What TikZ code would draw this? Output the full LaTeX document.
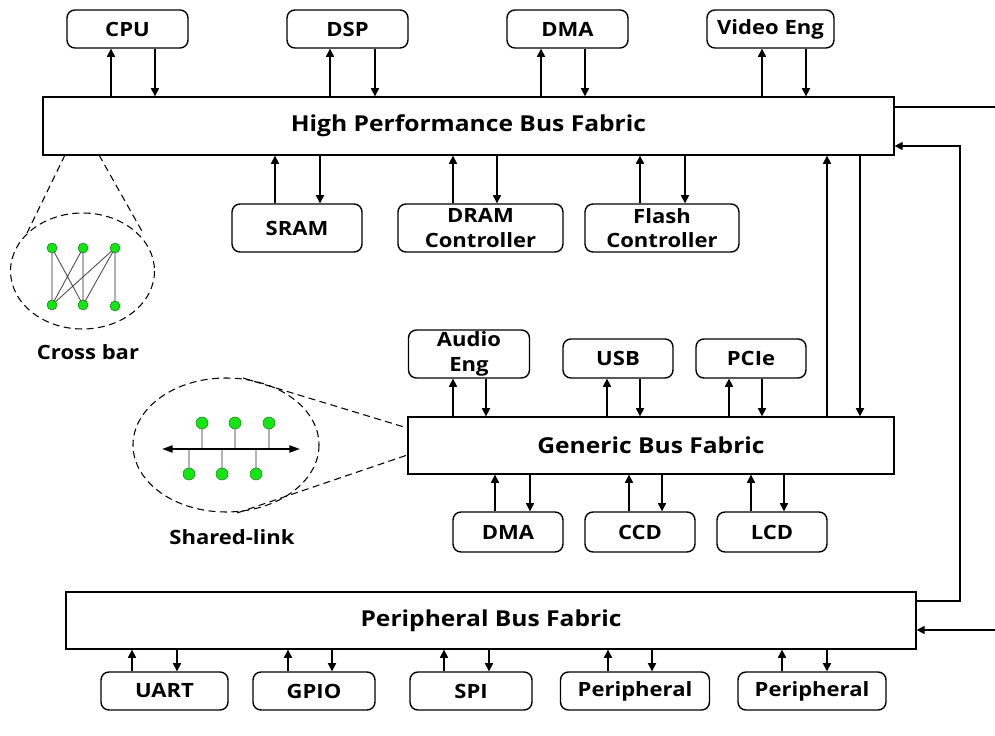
\documentclass[tikz,border=0pt]{standalone}
\usepackage{fontspec}
\setmainfont{Open Sans}[FakeStretch=1.12]
\usetikzlibrary{arrows.meta}
\definecolor{dotgreen}{RGB}{20,230,20}
\definecolor{dotedge}{RGB}{30,120,30}
\newcommand{\busio}[4]{%
  \draw[arr] (#3,0 |- #1) -- (#3,0 |- #2);
  \draw[arr] (#4,0 |- #2) -- (#4,0 |- #1);}
\begin{document}
\begin{tikzpicture}[x=0.02cm,y=-0.02cm,
  font=\fontsize{11.2}{14}\selectfont\bfseries,
  line width=0.8pt,
  arr/.style={-{Triangle[length=4.6pt,width=4.6pt]}},
  box/.style={draw, rounded corners=4.5pt, inner sep=0pt, align=center},
  bus/.style={draw, inner sep=0pt, font=\fontsize{12.5}{15}\selectfont\bfseries},
  dot/.style={circle, fill=dotgreen, draw=dotedge, line width=0.3pt, minimum size=0.2cm, inner sep=0pt},
  zoomline/.style={dashed, dash pattern=on 4pt off 2.5pt, line width=0.6pt}]
\useasboundingbox (0,0) rectangle (995,736);

% main bus fabrics
\node[bus, minimum width=17.02cm, minimum height=1.16cm] (hp) at (468.5,126) {High Performance Bus Fabric};
\node[bus, minimum width=9.72cm, minimum height=1.14cm] (gb) at (651,445.5) {Generic Bus Fabric};
\node[bus, minimum width=17cm, minimum height=1.14cm] (pb) at (491,620.5) {Peripheral Bus Fabric};

% masters on the high performance fabric
\node[box, minimum width=2.42cm, minimum height=0.76cm] (cpu) at (127.5,29) {CPU};
\node[box, minimum width=2.42cm, minimum height=0.76cm] (dsp) at (347.5,29) {DSP};
\node[box, minimum width=2.42cm, minimum height=0.76cm] (dma) at (567.5,29) {DMA};
\node[box, minimum width=2.54cm, minimum height=0.76cm] (vid) at (770.5,29) {Video Eng};

% memories
\node[box, minimum width=2.6cm, minimum height=0.96cm] (sram) at (297,228) {SRAM};
\node[box, minimum width=3.3cm, minimum height=0.96cm] (dram) at (480.5,228) {DRAM\\Controller};
\node[box, minimum width=3.08cm, minimum height=0.96cm] (flash) at (662,228) {Flash\\Controller};

% generic fabric clients
\node[box, minimum width=2.42cm, minimum height=0.96cm] (aud) at (469,354) {Audio\\Eng};
\node[box, minimum width=2.2cm, minimum height=0.78cm] (usb) at (618,358.5) {USB};
\node[box, minimum width=2.2cm, minimum height=0.78cm] (pcie) at (751,358.5) {PCIe};
\node[box, minimum width=2.2cm, minimum height=0.8cm] (dmab) at (508,532) {DMA};
\node[box, minimum width=2.2cm, minimum height=0.8cm] (ccd) at (640,532) {CCD};
\node[box, minimum width=2.2cm, minimum height=0.8cm] (lcd) at (772,532) {LCD};

% peripherals
\node[box, minimum width=2.54cm, minimum height=0.76cm] (uart) at (164.5,691) {UART};
\node[box, minimum width=2.44cm, minimum height=0.76cm] (gpio) at (314,691) {GPIO};
\node[box, minimum width=2.44cm, minimum height=0.76cm] (spi) at (471,691) {SPI};
\node[box, minimum width=2.98cm, minimum height=0.76cm] (per1) at (635,691) {Peripheral};
\node[box, minimum width=2.96cm, minimum height=0.76cm] (per2) at (812,691) {Peripheral};

% bidirectional links
\busio{hp.north}{cpu.south}{111}{155}
\busio{hp.north}{dsp.south}{330}{375}
\busio{hp.north}{dma.south}{541}{585}
\busio{hp.north}{vid.south}{762}{806}
\busio{sram.north}{hp.south}{275}{320}
\busio{dram.north}{hp.south}{453}{497}
\busio{flash.north}{hp.south}{640}{685}
\busio{gb.north}{hp.south}{827}{860}
\busio{gb.north}{aud.south}{453}{486}
\busio{gb.north}{usb.south}{607}{640}
\busio{gb.north}{pcie.south}{729}{762}
\busio{dmab.north}{gb.south}{495}{530}
\busio{ccd.north}{gb.south}{629}{662}
\busio{lcd.north}{gb.south}{751}{784}
\busio{uart.north}{pb.south}{132}{177}
\busio{gpio.north}{pb.south}{288}{332}
\busio{spi.north}{pb.south}{444}{489}
\busio{per1.north}{pb.south}{608}{652}
\busio{per2.north}{pb.south}{782}{827}

% off-page connections on the right
\coordinate (hpout) at (995,107);
\coordinate (pbin) at (995,630);
\coordinate (loop) at (960,601);
\draw (hp.east |- hpout) -- (hpout);
\draw[arr] (pb.east |- loop) -- (loop) |- (hp.east |- 0,146);
\draw[arr] (pbin) -- (pb.east |- pbin);

% crossbar detail
\draw[zoomline] (82.5,271) ellipse [x radius=72, y radius=58];
\draw[zoomline] (65,155) -- (27,233);
\draw[zoomline] (99,155) -- (143,233);
\coordinate (x1) at (52,248);
\coordinate (x2) at (83,248);
\coordinate (x3) at (115,248);
\coordinate (y1) at (52,305);
\coordinate (y2) at (83,305);
\coordinate (y3) at (115,306);
\draw[gray!60, line width=1.1pt] (x1) -- (y1) (x2) -- (y2) (x3) -- (y3);
\draw[black!70, line width=0.5pt] (x1) -- (y2) (x2) -- (y1) (x3) -- (y1) (x3) -- (y2);
\foreach \p in {x1,x2,x3,y1,y2,y3}
  \node[dot] (d\p) at (\p) {};
\node (xlab) at (88,352) {Cross bar};

% shared-link detail
\draw[zoomline] (226,445) ellipse [x radius=93, y radius=67];
\draw[zoomline] (243,378) -- (gb.west |- 0,428);
\draw[zoomline] (237,513) -- (gb.west |- 0,455);
\coordinate (sl) at (162,449);
\coordinate (sr) at (300,449);
\coordinate (s1) at (202,423);
\coordinate (s2) at (235,423);
\coordinate (s3) at (269,423);
\coordinate (t1) at (189,474);
\coordinate (t2) at (222,474);
\coordinate (t3) at (256,474);
\foreach \n in {s1,s2,s3,t1,t2,t3}
  \draw[gray!60, line width=1.1pt] (\n) -- (\n |- sl);
\draw[{Triangle[length=6pt,width=4pt]}-{Triangle[length=6pt,width=4pt]}, line width=1pt] (sl) -- (sr);
\foreach \n in {s1,s2,s3,t1,t2,t3}
  \node[dot, minimum size=0.24cm] (d\n) at (\n) {};
\node (slab) at (232,537) {Shared-link};
\end{tikzpicture}
\end{document}
